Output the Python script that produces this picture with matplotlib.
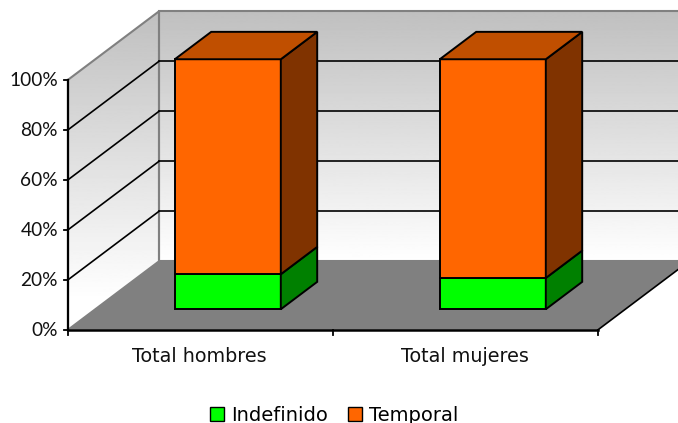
import numpy as np
import matplotlib
matplotlib.use('Agg')
import matplotlib.pyplot as plt
from matplotlib.patches import Polygon, Patch

categories = ['Total hombres', 'Total mujeres']
indefinido = [14.0, 12.5]
temporal = [86.0, 87.5]
y_ticks = [0, 20, 40, 60, 80, 100]
y_tick_labels = ['0%', '20%', '40%', '60%', '80%', '100%']

# oblique projection of the excel 3d chart, in pixels
X0, Y0 = 68.0, 329.8
CAT_W = 265.0
PCT_H = 2.5
DEPTH_X, DEPTH_Y = 91.0, -68.5


def proj(x, y, d=0.0):
    return (X0 + x * CAT_W + d * DEPTH_X, Y0 - y * PCT_H + d * DEPTH_Y)


def poly(ax, pts, color, edge='black', lw=1.4, z=3):
    p = Polygon(pts, closed=True, facecolor=color, edgecolor=edge, linewidth=lw,
                joinstyle='miter', zorder=z)
    ax.add_patch(p)
    return p


def box(ax, x0, x1, y0, y1, d0, d1, front, side, top=None):
    poly(ax, [proj(x0, y0, d0), proj(x1, y0, d0), proj(x1, y1, d0), proj(x0, y1, d0)], front)
    poly(ax, [proj(x1, y0, d0), proj(x1, y0, d1), proj(x1, y1, d1), proj(x1, y1, d0)], side)
    if top:
        poly(ax, [proj(x0, y1, d0), proj(x1, y1, d0), proj(x1, y1, d1), proj(x0, y1, d1)], top)


fig = plt.figure(figsize=(6.78, 4.23), dpi=100)
ax = fig.add_axes([0, 0, 1, 1])
ax.set_xlim(0, 678)
ax.set_ylim(423, 0)
ax.axis('off')
font = 'DejaVu Sans'
n = len(categories)

# walls with the grey to white gradient
grad = np.linspace(0.75, 1.0, 256).reshape(-1, 1)
back_pts = [proj(0, 0, 1), proj(n, 0, 1), proj(n, 100, 1), proj(0, 100, 1)]
side_pts = [proj(0, 0, 0), proj(0, 0, 1), proj(0, 100, 1), proj(0, 100, 0)]
top_y = proj(0, 100, 1)[1]
for pts, bottom in [(back_pts, proj(0, 0, 1)[1]), (side_pts, proj(0, 0, 0)[1] - 30)]:
    im = ax.imshow(grad, cmap='gray', vmin=0, vmax=1, aspect='auto', zorder=1,
                   extent=(0, 700, bottom, top_y))
    clip = Polygon(pts, closed=True, transform=ax.transData, facecolor='none', edgecolor='none')
    ax.add_patch(clip)
    im.set_clip_path(clip)
ax.set_xlim(0, 678)
ax.set_ylim(423, 0)

poly(ax, back_pts, 'none', edge='#808080', lw=1.5, z=2)
poly(ax, side_pts, 'none', edge='#808080', lw=1.5, z=2)

# gridlines
for t in y_ticks[1:-1]:
    ax.plot(*zip(proj(0, t, 0), proj(0, t, 1)), color='black', lw=1.2, zorder=2.5)
    ax.plot(*zip(proj(0, t, 1), proj(n, t, 1)), color='black', lw=1.2, zorder=2.5)

# floor
floor = [proj(0, 0, 0), proj(n, 0, 0), proj(n, 0, 1), proj(0, 0, 1)]
poly(ax, floor, '#808080', edge='none', lw=0, z=2.6)
ax.plot(*zip(proj(n, 0, 0), proj(n, 0, 1)), color='black', lw=1.2, zorder=2.7)

# bars
for i in range(n):
    x0, x1 = i + 0.3, i + 0.7
    box(ax, x0, x1, 0, indefinido[i], 0.3, 0.7, '#00ff00', '#008000')
    box(ax, x0, x1, indefinido[i], indefinido[i] + temporal[i], 0.3, 0.7,
        '#ff6600', '#803300', '#c04f00')

# axes lines, ticks and labels
ax.plot(*zip(proj(0, 0), proj(0, 100)), color='black', lw=1.6, zorder=4)
ax.plot(*zip(proj(0, 0), proj(n, 0)), color='black', lw=1.8, zorder=4)
for t, lab in zip(y_ticks, y_tick_labels):
    px, py = proj(0, t)
    ax.plot([px - 4, px], [py, py], color='black', lw=1.3, zorder=4)
    ax.text(px - 10, py + 1, lab, ha='right', va='center', fontsize=13.8, family='Lato', color='#111111')
for i in range(n + 1):
    px, py = proj(i, 0)
    ax.plot([px, px], [py, py + 5], color='black', lw=1.3, zorder=4)
for i, c in enumerate(categories):
    px, py = proj(i + 0.5, 0)
    ax.text(px - 1, py + 27, c, ha='center', va='center', fontsize=13.8, family=font, color='#111111')

handles = [Patch(facecolor='#00ff00', edgecolor='black', label='Indefinido'),
           Patch(facecolor='#ff6600', edgecolor='black', label='Temporal')]
ax.legend(handles=handles, loc='center', bbox_to_anchor=(334 / 678, 1 - 415 / 423), ncol=2,
          frameon=False, prop={'family': font, 'size': 14}, handlelength=0.72, handleheight=0.72,
          handletextpad=0.36, columnspacing=1.03, borderpad=0, borderaxespad=0)

fig.savefig('out.png', dpi=100)
